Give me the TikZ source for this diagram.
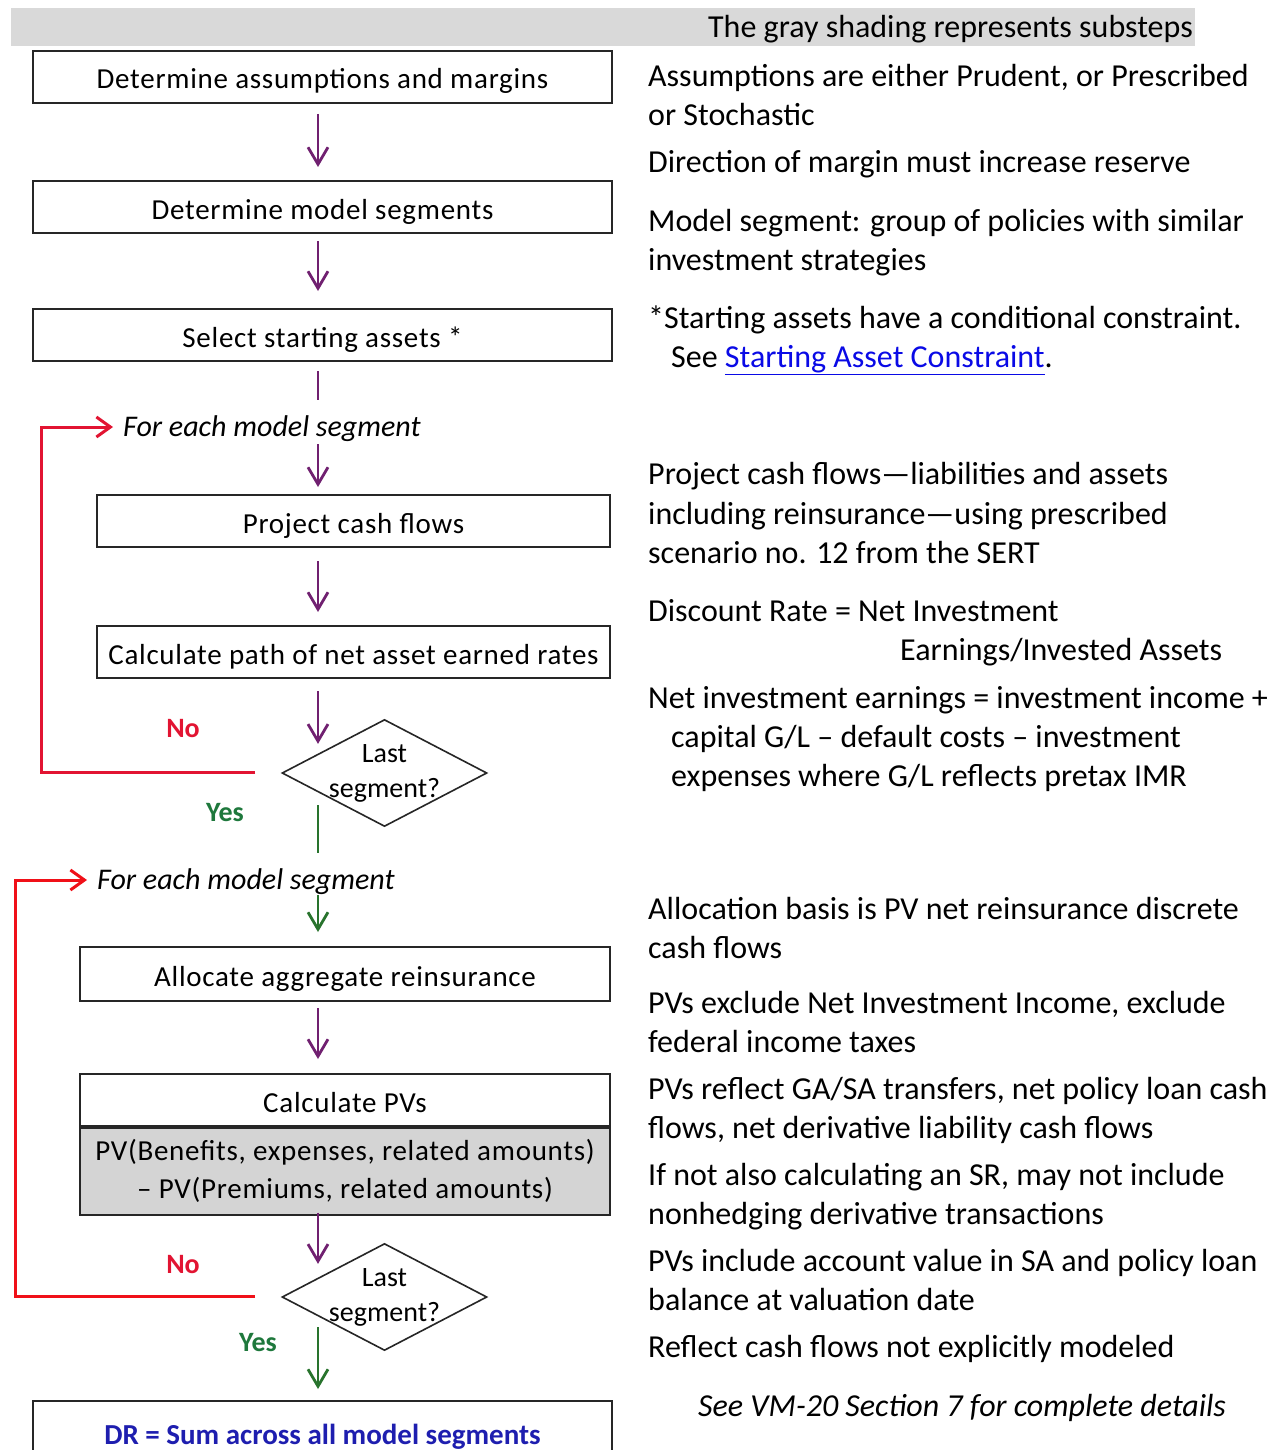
\documentclass[tikz,border=0pt]{standalone}
\usepackage{fontspec}
\setmainfont{Carlito}
\newfontfamily\boxfamily{Carlito}[LetterSpace=2.5]
\usetikzlibrary{arrows.meta,shapes.geometric}

\definecolor{flowpurple}{RGB}{112,32,112}
\definecolor{loopred}{RGB}{226,20,50}
\definecolor{loopredb}{RGB}{240,16,24}
\definecolor{yesgreen}{RGB}{30,120,60}
\definecolor{linegreen}{RGB}{40,115,45}
\definecolor{shade}{RGB}{217,217,217}
\definecolor{subshade}{RGB}{212,212,212}
\definecolor{drblue}{RGB}{30,30,175}
\definecolor{linkblue}{RGB}{10,10,230}

\newcommand\boxfont{\boxfamily\fontsize{29}{38}\selectfont}
\newcommand\notefont{\fontsize{32}{39}\selectfont}

\begin{document}
\begin{tikzpicture}[x=1pt,y=-1pt,
  stepbox/.style={draw=black!85, line width=2pt, minimum height=52pt,
    inner sep=0pt, text height=24pt, text depth=0pt, font=\boxfont},
  decision/.style={diamond, draw=black!85, line width=1.6pt,
    minimum width=205pt, minimum height=107pt, inner sep=0pt},
  dtext/.style={align=center, inner sep=0pt, font=\fontsize{28}{35}\selectfont},
  loophead/.style={anchor=west, inner sep=0pt, text height=20pt, text depth=8pt,
    font=\fontsize{30}{36}\selectfont\itshape},
  nolabel/.style={inner sep=0pt, text=loopred, font=\fontsize{28}{34}\selectfont\bfseries},
  yeslabel/.style={inner sep=0pt, text=yesgreen, font=\fontsize{28}{34}\selectfont\bfseries},
  barb/.style={-{Straight Barb[length=17pt,width=20pt,line width=2.8pt]}},
  flowarrow/.style={draw=flowpurple, line width=2.8pt, barb},
  flowline/.style={draw=flowpurple, line width=2.8pt},
  yesarrow/.style={draw=linegreen, line width=2.8pt, barb},
  yesline/.style={draw=linegreen, line width=2.8pt},
  loopline/.style={draw=#1, line width=3pt,
    -{Straight Barb[length=14pt,width=20pt,line width=3pt]}},
  note/.style={anchor=base west, inner sep=0pt, font=\notefont},
]
\useasboundingbox (0,0) rectangle (1286,1450);
\clip (0,0) rectangle (1286,1450);
\fill[white] (0,0) rectangle (1286,1450);

% legend bar
\node[fill=shade, minimum width=1184pt, minimum height=38pt, inner sep=0pt,
  anchor=north west] (legendbar) at (11,8) {};
\node[anchor=base east, inner sep=0pt, font=\notefont] (legend) at (1193,38)
  {The gray shading represents substeps};

% spine of the flow
\coordinate (spine) at (318,0);

% main steps
\node[stepbox, minimum width=579pt] (assume) at (322.5,77) {Determine assumptions and margins};
\node[stepbox, minimum width=579pt] (models) at (322.5,207) {Determine model segments};
\node[stepbox, minimum width=579pt] (select) at (322.5,335) {Select starting assets *};

% first loop
\node[loophead] (each1) at (123,430) {For each model segment};
\node[stepbox, minimum width=513pt] (project) at (353.5,521) {Project cash flows};
\node[stepbox, minimum width=513pt] (rates) at (353.5,652) {Calculate path of net asset earned rates};
\node[decision] (last1) at (384.5,773) {};
\node[dtext] (last1t) at (384.5,773.5) {Last\\segment?};
\node[nolabel] (no1) at (183,729) {No};
\node[yeslabel] (yes1) at (225,813) {Yes};
\coordinate (no1end) at (255,772);
\coordinate (no1corner) at (41,772);

% second loop
\node[loophead] (each2) at (97,883) {For each model segment};
\node[stepbox, minimum width=530pt, minimum height=54pt] (alloc) at (345,974) {Allocate aggregate reinsurance};
\node[stepbox, minimum width=530pt] (pvhead) at (345,1100) {Calculate PVs};
\node[draw=black!85, line width=2pt, inner sep=0pt, minimum width=530pt,
  minimum height=87pt, fill=subshade, align=center,
  font=\boxfamily\fontsize{29}{38}\selectfont] (pvsub) at (345,1171)
  {PV(Benefits, expenses, related amounts)\\– PV(Premiums, related amounts)};
\node[decision] (last2) at (384.5,1297) {};
\node[dtext] (last2t) at (384.5,1297.5) {Last\\segment?};
\node[nolabel] (no2) at (183,1265) {No};
\node[yeslabel] (yes2) at (258,1343) {Yes};
\coordinate (no2end) at (255,1296);
\coordinate (no2corner) at (15,1296);

% result
\node[stepbox, minimum width=579pt, minimum height=62pt, text=drblue,
  font=\fontsize{29}{35}\selectfont\bfseries] (total) at (322.5,1432)
  {DR = Sum across all model segments};

% connectors
\draw[flowarrow, shorten <=10pt, shorten >=13pt] (assume.south -| spine) -- (models.north -| spine);
\draw[flowarrow, shorten <=7pt, shorten >=17pt] (models.south -| spine) -- (select.north -| spine);
\draw[flowline, shorten <=9pt, shorten >=16pt] (select.south -| spine) -- (each1.north -| spine);
\draw[flowarrow, shorten <=0pt, shorten >=7pt] (each1.south -| spine) -- (project.north -| spine);
\draw[flowarrow, shorten <=13pt, shorten >=13pt] (project.south -| spine) -- (rates.north -| spine);
\draw[flowarrow, shorten <=12pt, shorten >=2pt] (rates.south -| spine) -- (last1.north west -| spine);
\draw[yesline, shorten <=5pt, shorten >=16pt] (last1.south west -| spine) -- (each2.north -| spine);
\draw[loopline=loopred] (no1end) -- (no1corner) |- ([xshift=-10pt,yshift=3pt]each1.west);

\draw[yesarrow, shorten <=-2pt, shorten >=14pt] (each2.south -| spine) -- (alloc.north -| spine);
\draw[flowarrow, shorten <=6pt, shorten >=14pt] (alloc.south -| spine) -- (pvhead.north -| spine);
\draw[flowarrow, shorten <=-3pt, shorten >=6pt] (pvsub.south -| spine) -- (last2.north west -| spine);
\draw[yesarrow, shorten <=3pt, shorten >=11pt] (last2.south west -| spine) -- (total.north -| spine);
\draw[loopline=loopredb] (no2end) -- (no2corner) |- ([xshift=-10pt,yshift=3pt]each2.west);

% notes beside the flow
\node[note] (t1) at (648,86.5) {Assumptions are either Prudent, or Prescribed};
\node[note] (t2) at (648,125.5) {or Stochastic};
\node[note] (t3) at (648,172.5) {Direction of margin must increase reserve};
\node[note] (t4) at (648,231.5) {Model segment: group of policies with similar};
\node[note] (t5) at (648,270.5) {investment strategies};
\node[note] (t6) at (648,328.5) {*Starting assets have a conditional constraint.};
\node[note] (t7) at (671,367.5) {See \textcolor{linkblue}{\underline{Starting Asset Constraint}}.};
\node[note] (t8) at (648,484.5) {Project cash flows—liabilities and assets};
\node[note] (t9) at (648,524.5) {including reinsurance—using prescribed};
\node[note] (t10) at (648,563.5) {scenario no. 12 from the SERT};
\node[note] (t11) at (648,621.5) {Discount Rate = Net Investment};
\node[note] (t12) at (900,660.5) {Earnings/Invested Assets};
\node[note] (t13) at (648,708.5) {Net investment earnings = investment income +};
\node[note] (t14) at (671,747.5) {capital G/L – default costs – investment};
\node[note] (t15) at (671,786.5) {expenses where G/L reflects pretax IMR};
\node[note] (t16) at (648,919.5) {Allocation basis is PV net reinsurance discrete};
\node[note] (t17) at (648,958.5) {cash flows};
\node[note] (t18) at (648,1013.5) {PVs exclude Net Investment Income, exclude};
\node[note] (t19) at (648,1052.5) {federal income taxes};
\node[note] (t20) at (648,1099.5) {PVs reflect GA/SA transfers, net policy loan cash};
\node[note] (t21) at (648,1138.5) {flows, net derivative liability cash flows};
\node[note] (t22) at (648,1185.5) {If not also calculating an SR, may not include};
\node[note] (t23) at (648,1224.5) {nonhedging derivative transactions};
\node[note] (t24) at (648,1271.5) {PVs include account value in SA and policy loan};
\node[note] (t25) at (648,1310.5) {balance at valuation date};
\node[note] (t26) at (648,1357.5) {Reflect cash flows not explicitly modeled};
\node[note, font=\notefont\itshape] (t27) at (698,1416.5) {See VM-20 Section 7 for complete details};
\end{tikzpicture}
\end{document}
